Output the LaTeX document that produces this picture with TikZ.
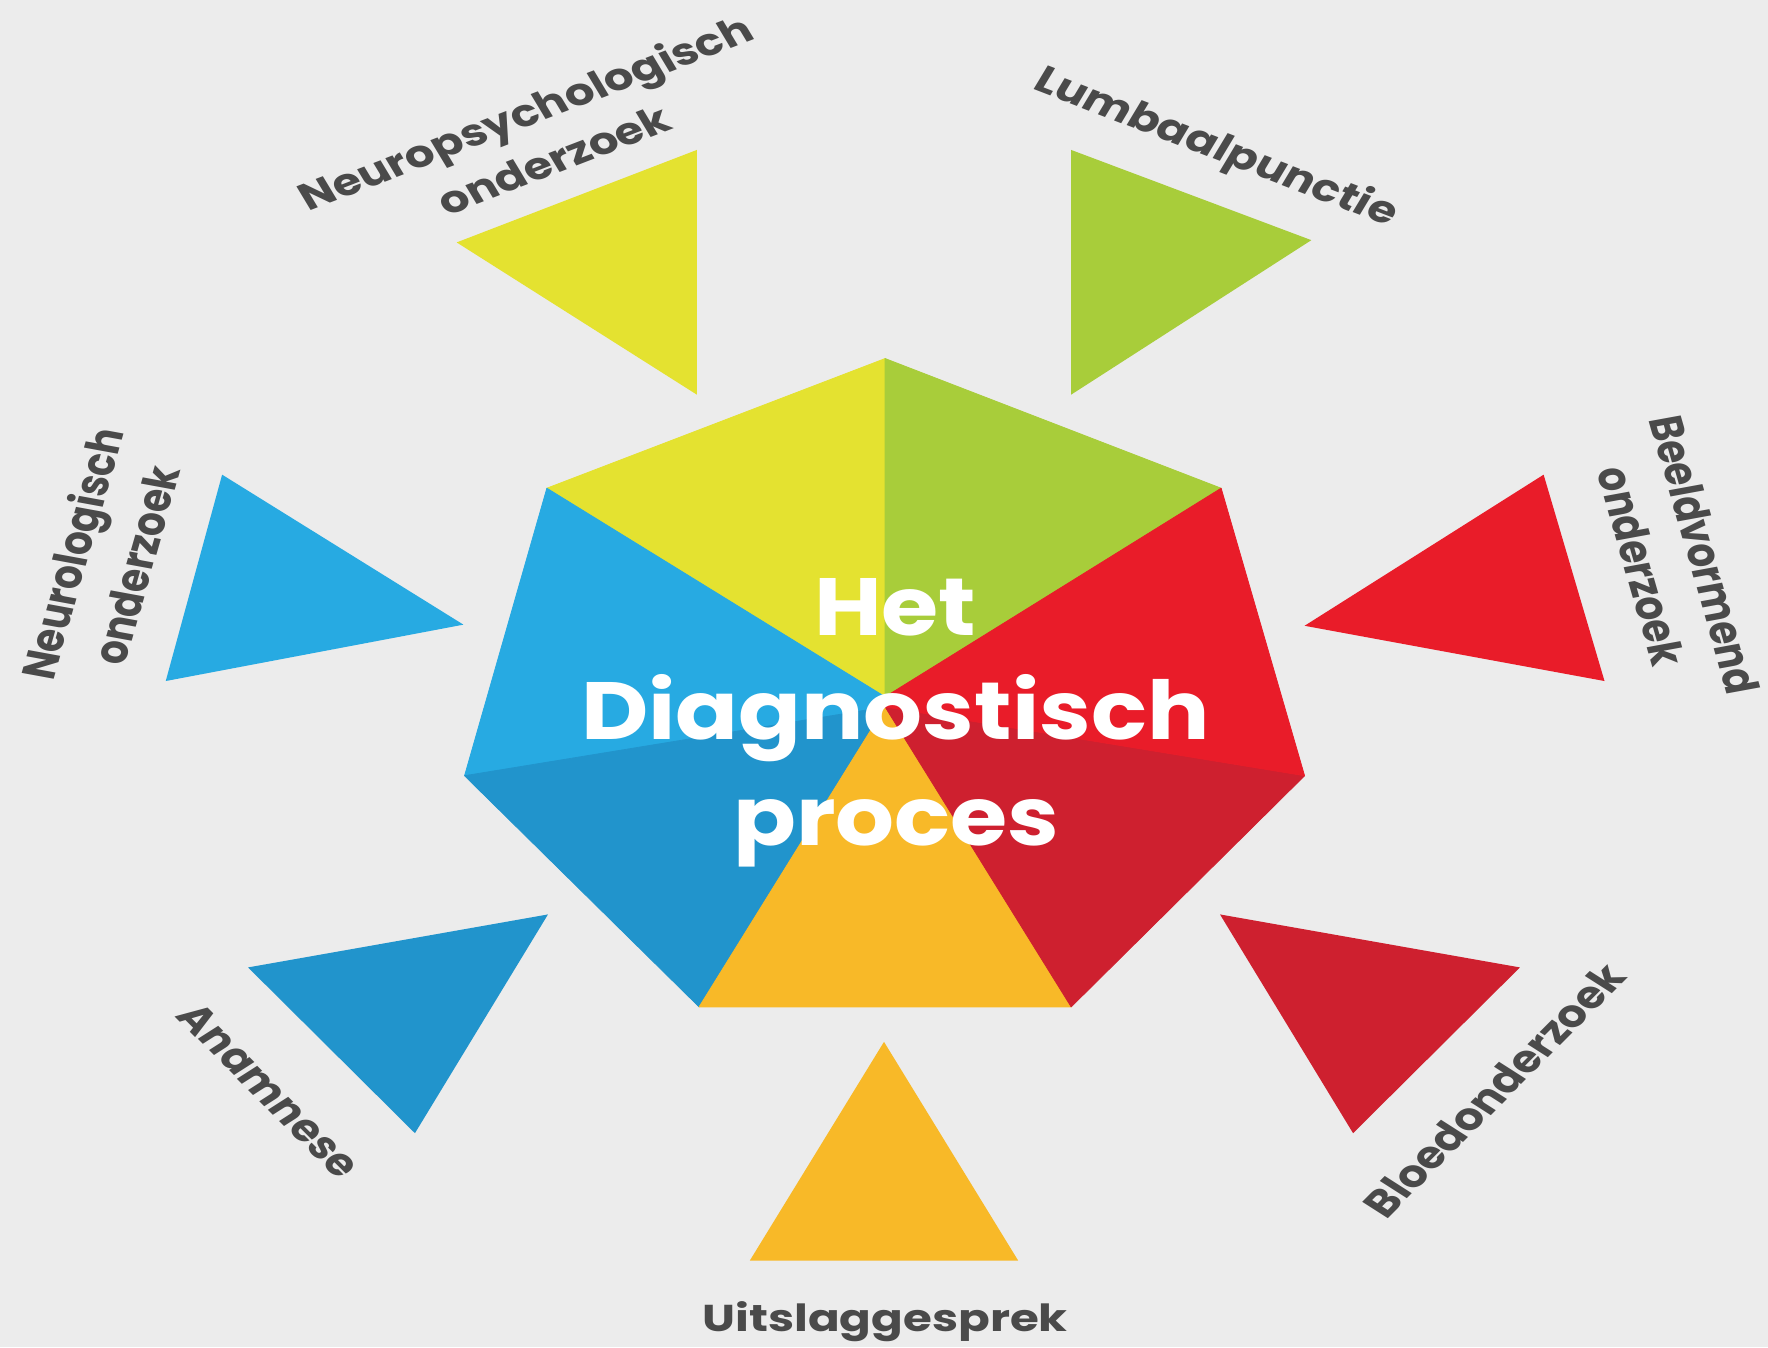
\documentclass[tikz,border=0pt]{standalone}
\usepackage{fontspec}
\setmainfont{Poppins}
\definecolor{bgc}{HTML}{ECECEC}
\definecolor{cYel}{HTML}{E4E230}
\definecolor{cGrn}{HTML}{A8CD3A}
\definecolor{cBlu}{HTML}{27AAE2}
\definecolor{cDBl}{HTML}{2194CC}
\definecolor{cRed}{HTML}{E91C29}
\definecolor{cDRd}{HTML}{CE202F}
\definecolor{cOra}{HTML}{F8B928}
\definecolor{lblgray}{HTML}{4A4A4A}
\begin{document}
\begin{tikzpicture}[x=0.1mm,y=-0.1mm,
  facet/.style={fill=#1, draw=#1, line width=0.2pt, line join=round},
  lbl/.style={text=lblgray, font=\fontsize{11.8}{16.5}\selectfont\bfseries, align=center, inner sep=0pt},
  ctext/.style={text=white, font=\fontsize{20.5}{26}\selectfont\bfseries, inner sep=0pt, anchor=base, xscale=1.14}]
\fill[bgc] (0,0) rectangle (1568,1195);
\useasboundingbox (0,0) rectangle (1568,1195);
% heptagon vertices
\coordinate (T) at (785,318);
\coordinate (UL) at (485,433);
\coordinate (UR) at (1083,433);
\coordinate (L) at (412,688);
\coordinate (R) at (1157,688);
\coordinate (LL) at (620,893);
\coordinate (LR) at (950,893);
\coordinate (C) at (785,618);
\coordinate (O) at (785,627);
\path[facet=cYel] (T) -- (C) -- (UL) -- cycle;
\path[facet=cGrn] (T) -- (UR) -- (C) -- cycle;
\path[facet=cBlu] (UL) -- (C) -- (O) -- (L) -- cycle;
\path[facet=cDBl] (L) -- (O) -- (LL) -- cycle;
\path[facet=cOra] (LL) -- (O) -- (LR) -- cycle;
\path[facet=cDRd] (LR) -- (O) -- (R) -- cycle;
\path[facet=cRed] (R) -- (O) -- (C) -- (UR) -- cycle;
% outer triangles
\coordinate (y1) at (618,133); \coordinate (y2) at (618,350); \coordinate (y3) at (405,215);
\coordinate (g1) at (950,133); \coordinate (g2) at (950,350); \coordinate (g3) at (1163,213);
\coordinate (b1) at (197,421); \coordinate (b2) at (147,604); \coordinate (b3) at (411,554);
\coordinate (r1) at (1369,421); \coordinate (r2) at (1157,555); \coordinate (r3) at (1423,604);
\coordinate (d1) at (220,858); \coordinate (d2) at (486,811); \coordinate (d3) at (368,1005);
\coordinate (e1) at (1082,811); \coordinate (e2) at (1348,858); \coordinate (e3) at (1200,1005);
\coordinate (o1) at (784,924); \coordinate (o2) at (665,1118); \coordinate (o3) at (903,1118);
\fill[cYel] (y1) -- (y2) -- (y3) -- cycle;
\fill[cGrn] (g1) -- (g2) -- (g3) -- cycle;
\fill[cBlu] (b1) -- (b2) -- (b3) -- cycle;
\fill[cRed] (r1) -- (r2) -- (r3) -- cycle;
\fill[cDBl] (d1) -- (d2) -- (d3) -- cycle;
\fill[cDRd] (e1) -- (e2) -- (e3) -- cycle;
\fill[cOra] (o1) -- (o2) -- (o3) -- cycle;
% centre text
\node[ctext] (het) at (794,564) {Het};
\node[ctext] (diag) at (794,656) {Diagnostisch};
\node[ctext] (proc) at (795,750) {proces};
% labels
\path (478,120) node[lbl, yscale=0.8, rotate=25.7] (np) {Neuropsychologisch\\onderzoek};
\path (1078,132) node[lbl, yscale=0.8, rotate=-25.7] (lp) {Lumbaalpunctie};
\path (91,496) node[lbl, yscale=0.8, rotate=77.1] (nl) {Neurologisch\\onderzoek};
\path (1484,497) node[lbl, yscale=0.8, rotate=-77.1] (bv) {Beeldvormend\\onderzoek};
\path (239,967) node[lbl, yscale=0.8, rotate=-51.4] (an) {Anamnese};
\path (1325,967) node[lbl, yscale=0.8, rotate=51.4] (bl) {Bloedonderzoek};
\path (785,1172) node[lbl, yscale=0.8] (ui) {Uitslaggesprek};
\end{tikzpicture}
\end{document}
